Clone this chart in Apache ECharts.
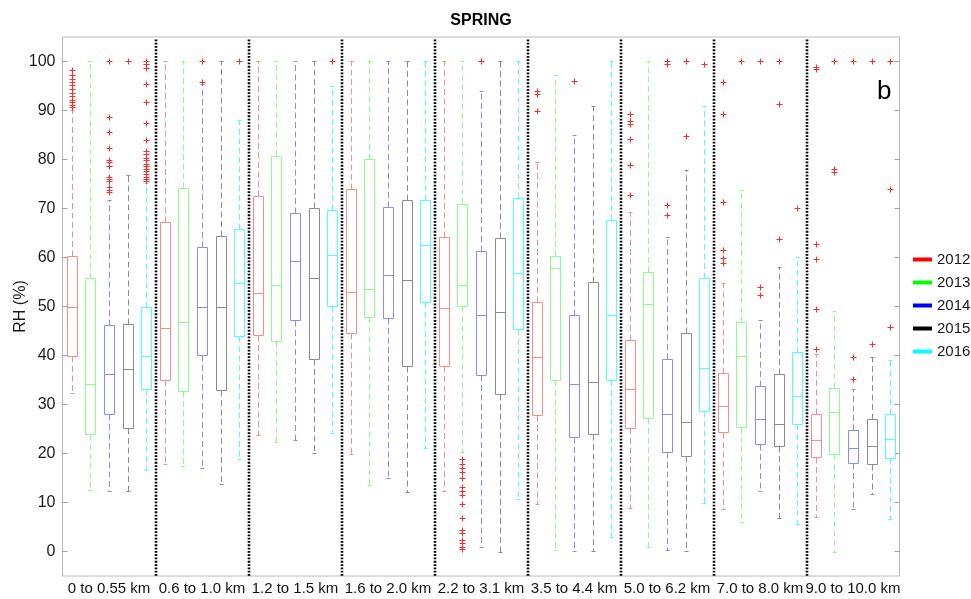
<!DOCTYPE html>
<html><head><meta charset="utf-8">
<script src="https://cdn.jsdelivr.net/npm/echarts@6/dist/echarts.min.js"></script>
<style>html,body{margin:0;padding:0;background:#fff}#c{width:971px;height:599px}</style>
</head><body><div id="c"></div>
<script>
const categories = ['0 to 0.55 km','0.6 to 1.0 km','1.2 to 1.5 km','1.6 to 2.0 km','2.2 to 3.1 km','3.5 to 4.4 km','5.0 to 6.2 km','7.0 to 8.0 km','9.0 to 10.0 km'];
const years = ['2012','2013','2014','2015','2016'];
const yTicks = [0,10,20,30,40,50,60,70,80,90,100];

// [lower whisker, Q1, median, Q3, upper whisker] per height class
const box2012 = [[32.4,39.9,50.0,60.3,90.2],[17.8,35.1,45.6,67.2,100],[23.7,44.1,52.7,72.6,100],[20.0,44.6,52.9,74.0,100],[12.3,37.9,49.6,64.1,100],[9.7,27.8,39.6,51.0,79.5],[8.9,25.2,33.2,43.2,69.2],[8.6,24.3,29.7,36.5,54.8],[7.0,19.2,22.8,28.0,40.3]];
const box2013 = [[12.5,23.9,34.2,55.8,100],[17.4,32.8,46.8,74.1,100],[22.4,42.9,54.3,80.8,100],[13.5,47.8,53.5,80.1,100],[20.3,50.1,54.3,71.0,100],[0.3,35.0,57.8,60.3,97.2],[0.9,27.3,50.5,57.1,100],[6.1,25.5,39.9,46.8,73.8],[0,19.8,28.5,33.4,49.1]];
const box2014 = [[12.3,28.0,36.2,46.2,71.8],[17.0,40.1,50.0,62.2,95.5],[22.8,47.2,59.2,69.1,100],[15.1,47.6,56.4,70.4,100],[0.9,36.1,48.2,61.3,93.9],[0.1,23.4,34.2,48.2,84.9],[0.3,20.4,28.0,39.3,64.2],[12.3,21.9,27.1,33.7,47.2],[8.6,18.1,21.1,24.7,33.1]];
const box2015 = [[12.3,25.2,37.2,46.4,76.8],[13.8,32.9,50.0,64.4,100],[20.2,39.2,55.8,70.1,100],[12.1,37.9,55.4,71.8,100],[0,32.2,48.9,63.9,100],[0.1,23.9,34.6,54.9,90.9],[0.2,19.5,26.4,44.6,77.9],[6.9,21.5,26.1,36.3,58.0],[11.8,17.8,21.5,27.1,39.6]];
const box2016 = [[16.7,33.1,39.9,50.0,75.2],[18.8,44.0,54.7,65.8,88.1],[24.1,50.2,60.5,69.7,95.0],[21.1,51.0,62.5,71.8,100],[10.8,45.5,56.9,72.1,100],[2.9,35.0,48.2,67.7,100],[9.8,28.7,37.5,55.8,90.9],[5.6,26.1,31.7,40.8,60.1],[6.6,19.0,23.0,28.0,39.1]];

// outliers per height class
const out2012 = [[98.2,97.3,96.5,95.8,95.2,94.4,93.6,92.9,92.2,91.7,91.2,90.7],[],[],[],[],[93.9,93.3,89.8],[89.3,87.8,87.3,84.2,78.8,72.8],[95.8,89.2,71.4,61.5,59.8,58.8],[98.8,98.5,62.7,59.7,49.5,41.3]];
const out2013 = [[],[],[],[],[18.8,17.9,17.1,16.2,15.0,13.1,12.3,11.5,9.6,6.9,4.4,3.8,2.4,1.7,1.0,0.6],[],[],[100],[100,78.1,77.4]];
const out2014 = [[100,88.7,85.6,82.4,80.0,79.4,78.7,76.5,76.1,75.7,74.3,73.8,73.4],[100,95.8],[],[],[100],[96.0],[100,99.5,70.8,68.6],[100,53.9,52.4],[100,39.7,35.2]];
const out2015 = [[100],[],[],[],[],[],[100,84.7],[100,91.4,63.7],[100,42.3]];
const out2016 = [[100,99.5,98.7,95.5,91.8,87.5,84.0,81.7,81.2,80.4,79.8,79.1,78.6,78.1,77.6,77.1,76.5,76.1,75.7],[100],[100],[],[],[],[99.5],[70.1],[100,74.0,45.9]];

const boxes = [box2012, box2013, box2014, box2015, box2016];
const outs = [out2012, out2013, out2014, out2015, out2016];
const legendColors = ['#ff0000','#00ff00','#0000ff','#000000','#00ffff'];
const boxColors = ['#ff8a8a','#8aff8a','#8a8aff','#8c8c8c','#4dffff'];
const FONT = '"Liberation Sans", Arial, Helvetica, sans-serif';
const NY = years.length;
function pos(g, j) { return g * NY + j + 0.5; }

function boxRenderer(color) {
  return function (params, api) {
    const x = api.value(0);
    const lo = api.coord([x, api.value(1)]);
    const q1 = api.coord([x, api.value(2)]);
    const md = api.coord([x, api.value(3)]);
    const q3 = api.coord([x, api.value(4)]);
    const hi = api.coord([x, api.value(5)]);
    const unit = api.size([1, 0])[0];
    const hw = Math.round(unit * 0.26), cw = Math.round(unit * 0.12);
    const cx = Math.round(lo[0]) + 0.5;
    const r = v => Math.round(v) + 0.5;
    const solid = { stroke: color, lineWidth: 1, fill: null };
    const dash = { stroke: color, lineWidth: 1, lineDash: [6, 3.5] };
    return { type: 'group', children: [
      { type: 'line', shape: { x1: cx, y1: r(q3[1]), x2: cx, y2: r(hi[1]) }, style: dash },
      { type: 'line', shape: { x1: cx, y1: r(q1[1]), x2: cx, y2: r(lo[1]) }, style: dash },
      { type: 'line', shape: { x1: cx - cw, y1: r(hi[1]), x2: cx + cw, y2: r(hi[1]) }, style: solid },
      { type: 'line', shape: { x1: cx - cw, y1: r(lo[1]), x2: cx + cw, y2: r(lo[1]) }, style: solid },
      { type: 'rect', shape: { x: cx - hw, y: r(q3[1]), width: 2 * hw, height: r(q1[1]) - r(q3[1]) }, style: { stroke: color, lineWidth: 1, fill: 'rgba(0,0,0,0)' } },
      { type: 'line', shape: { x1: cx - hw, y1: r(md[1]), x2: cx + hw, y2: r(md[1]) }, style: solid }
    ]};
  };
}

const series = years.map((y, j) => ({
  type: 'custom', name: y,
  itemStyle: { color: legendColors[j] },
  renderItem: boxRenderer(boxColors[j]),
  encode: { x: 0, y: [1, 2, 3, 4, 5] },
  data: boxes[j].map((s, g) => [pos(g, j)].concat(s)),
  z: 3
}));

const outlierData = [];
outs.forEach((yr, j) => yr.forEach((vals, g) => vals.forEach(v => outlierData.push([pos(g, j), v]))));
series.push({
  type: 'custom', name: 'outliers',
  renderItem: function (params, api) {
    const p = api.coord([api.value(0), api.value(1)]);
    const cx = Math.round(p[0]) + 0.5, cy = Math.round(p[1]) + 0.5, s = 3;
    const st = { stroke: '#ff2a2a', lineWidth: 1 };
    return { type: 'group', children: [
      { type: 'line', shape: { x1: cx - s, y1: cy, x2: cx + s, y2: cy }, style: st },
      { type: 'line', shape: { x1: cx, y1: cy - s, x2: cx, y2: cy + s }, style: st }
    ]};
  },
  encode: { x: 0, y: 1 },
  data: outlierData,
  z: 4
});

const sepData = [];
for (let g = 1; g < categories.length; g++) sepData.push([g * NY]);
series.push({
  type: 'custom', name: 'separators',
  renderItem: function (params, api) {
    const a = api.coord([api.value(0), 104.5]);
    const b = api.coord([api.value(0), -5]);
    const x = Math.round(a[0]);
    return { type: 'line', shape: { x1: x, y1: a[1], x2: x, y2: b[1] }, style: { stroke: '#000', lineWidth: 2.6, lineDash: [1.8, 1.5] } };
  },
  encode: { x: 0 },
  data: sepData,
  z: 2
});

const chart = echarts.init(document.getElementById('c'), null, { renderer: 'canvas' });
chart.setOption({
  animation: false,
  backgroundColor: '#fff',
  textStyle: { fontFamily: FONT },
  grid: { left: 62.5, right: 71.5, top: 37, bottom: 23, outerBoundsMode: 'none', containLabel: false, show: true, borderColor: '#b8b8b8', borderWidth: 1, backgroundColor: 'transparent' },
  legend: {
    orient: 'vertical', left: 908, top: 247, icon: 'rect', itemWidth: 19, itemHeight: 4, itemGap: 8,
    textStyle: { fontSize: 15, color: '#1a1a1a', fontFamily: FONT },
    data: years
  },
  xAxis: {
    type: 'value', min: 0, max: categories.length * NY,
    axisLine: { show: false }, axisTick: { show: false }, splitLine: { show: false },
    axisLabel: {
      customValues: categories.map((c, i) => i * NY + NY / 2),
      formatter: v => categories[Math.floor(v / NY)],
      fontSize: 15, color: '#111', margin: 5, fontFamily: FONT, hideOverlap: false
    }
  },
  yAxis: [{
    type: 'value', min: -5, max: 105,
    name: 'RH (%)', nameLocation: 'middle', nameGap: 34, nameMoveOverlap: false,
    nameTextStyle: { fontSize: 16, color: '#1a1a1a', fontFamily: FONT },
    axisLine: { show: false }, splitLine: { show: false },
    axisTick: { show: true, inside: true, length: 5, customValues: yTicks, lineStyle: { color: '#a0a0a0' } },
    axisLabel: { customValues: yTicks, fontSize: 16, color: '#1a1a1a', margin: 7, fontFamily: FONT }
  }, {
    type: 'value', min: -5, max: 105, position: 'right',
    axisLine: { show: false }, splitLine: { show: false },
    axisTick: { show: true, inside: true, length: 5, customValues: yTicks, lineStyle: { color: '#a0a0a0' } },
    axisLabel: { show: false }
  }],
  graphic: [
    { type: 'text', x: 481, y: 21, style: { text: 'SPRING', font: 'bold 16px ' + FONT, fill: '#000', textAlign: 'center', textVerticalAlign: 'middle' } },
    { type: 'text', x: 877, y: 92, style: { text: 'b', font: '26px ' + FONT, fill: '#000', textAlign: 'left', textVerticalAlign: 'middle' } }
  ],
  series: series
});
</script>
</body></html>
